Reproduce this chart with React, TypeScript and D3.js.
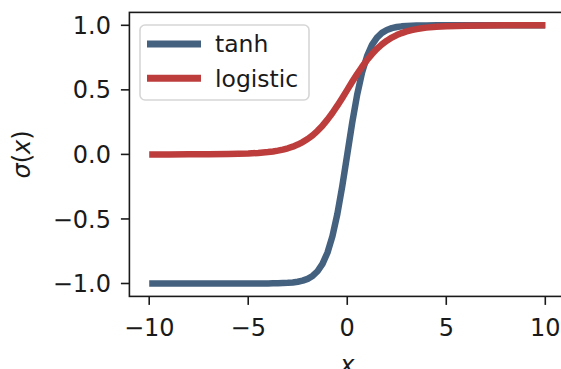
import { useEffect } from "react";
import * as d3 from "d3";

// sample grid: coarse in the flat tails, fine around the origin
const xs = [
  -10, -9, -8, -7, -6, -5, -4.5, -4, -3.75, -3.5, -3.25, -3, -2.75, -2.5, -2.25, -2,
  -1.75, -1.5, -1.25, -1, -0.75, -0.5, -0.25, 0, 0.25, 0.5, 0.75, 1, 1.25, 1.5, 1.75,
  2, 2.25, 2.5, 2.75, 3, 3.25, 3.5, 3.75, 4, 4.5, 5, 6, 7, 8, 9, 10,
];
const tanhVals = [
  -1, -1, -1, -1, -1, -0.9999, -0.9998, -0.9993, -0.9989, -0.9982, -0.997, -0.9951,
  -0.9919, -0.9866, -0.978, -0.964, -0.9414, -0.9051, -0.8483, -0.7616, -0.6351, -0.4621,
  -0.2449, 0, 0.2449, 0.4621, 0.6351, 0.7616, 0.8483, 0.9051, 0.9414, 0.964, 0.978,
  0.9866, 0.9919, 0.9951, 0.997, 0.9982, 0.9989, 0.9993, 0.9998, 0.9999, 1, 1, 1, 1, 1,
];
const logisticVals = [
  0.0, 0.0001, 0.0003, 0.0009, 0.0025, 0.0067, 0.011, 0.018, 0.023, 0.0293, 0.0373,
  0.0474, 0.0601, 0.0759, 0.0953, 0.1192, 0.148, 0.1824, 0.2227, 0.2689, 0.3208, 0.3775,
  0.4378, 0.5, 0.5622, 0.6225, 0.6792, 0.7311, 0.7773, 0.8176, 0.852, 0.8808, 0.9047,
  0.9241, 0.9399, 0.9526, 0.9627, 0.9707, 0.977, 0.982, 0.989, 0.9933, 0.9975, 0.9991,
  0.9997, 0.9999, 1.0,
];
const series = [
  { name: "tanh", values: tanhVals, color: "#44617f" },
  { name: "logistic", values: logisticVals, color: "#bd3d3d" },
];
const xTicks = [-10, -5, 0, 5, 10];
const yTicks = [-1.0, -0.5, 0.0, 0.5, 1.0];

const W = 561;
const H = 369;
const FONT = "DejaVu Sans, sans-serif";
const INK = "#1a1a1a";

const fmtX = (v: number) => (v < 0 ? `\u2212${Math.abs(v)}` : `${v}`);
const fmtY = (v: number) => (v < 0 ? `\u2212${Math.abs(v).toFixed(1)}` : v.toFixed(1));

export default function App() {
  useEffect(() => {
    document.body.style.margin = "0";
  }, []);

  const x = d3.scaleLinear().domain([-11, 11]).range([129.4, 565.1]);
  const y = d3.scaleLinear().domain([-1.1, 1.1]).range([296.4, 12.4]);
  const [x0, x1] = x.range();
  const [y0, y1] = y.range();

  const line = d3
    .line<number>()
    .x((_, i) => x(xs[i]))
    .y((d) => y(d));

  return (
    <svg width={W} height={H} style={{ display: "block" }} fontFamily={FONT}>
      <defs>
        <clipPath id="plot">
          <rect x={x0} y={y1} width={x1 - x0} height={y0 - y1} />
        </clipPath>
      </defs>

      <g clipPath="url(#plot)">
        {series.map((s) => (
          <path
            key={s.name}
            d={line(s.values) ?? ""}
            fill="none"
            stroke={s.color}
            strokeWidth={6.5}
            strokeLinejoin="round"
          />
        ))}
      </g>

      {/* spines */}
      <rect x={x0} y={y1} width={x1 - x0} height={y0 - y1} fill="none" stroke={INK} strokeWidth={1.6} />

      {/* x axis */}
      {xTicks.map((t) => (
        <g key={`x${t}`}>
          <line x1={x(t)} x2={x(t)} y1={y0} y2={y0 + 8.5} stroke={INK} strokeWidth={1.6} />
          <text x={x(t)} y={335.5} textAnchor="middle" fontSize={24} fill={INK}>
            {fmtX(t)}
          </text>
        </g>
      ))}
      <text x={x(0)} y={373} textAnchor="middle" fontSize={24} fontStyle="italic" fill={INK}>
        x
      </text>

      {/* y axis */}
      {yTicks.map((t) => (
        <g key={`y${t}`}>
          <line x1={x0 - 8.5} x2={x0} y1={y(t)} y2={y(t)} stroke={INK} strokeWidth={1.6} />
          <text x={111} y={y(t)} dy="0.36em" textAnchor="end" fontSize={24} fill={INK}>
            {fmtY(t)}
          </text>
        </g>
      ))}
      <text
        transform={`translate(30,${(y0 + y1) / 2}) rotate(-90)`}
        textAnchor="middle"
        fontSize={24}
        fill={INK}
      >
        <tspan fontStyle="italic">σ</tspan>
        <tspan>(</tspan>
        <tspan fontStyle="italic">x</tspan>
        <tspan>)</tspan>
      </text>

      {/* legend */}
      <g>
        <rect x={140} y={25} width={169} height={75} rx={5} fill="white" fillOpacity={0.8} stroke="#d6d6d6" strokeWidth={1.6} />
        {series.map((s, i) => {
          const ly = 44 + i * 34.3;
          return (
            <g key={s.name}>
              <line x1={147} x2={201} y1={ly} y2={ly} stroke={s.color} strokeWidth={7} />
              <text x={215} y={ly} dy="0.36em" fontSize={23.5} fill={INK}>
                {s.name}
              </text>
            </g>
          );
        })}
      </g>
    </svg>
  );
}
